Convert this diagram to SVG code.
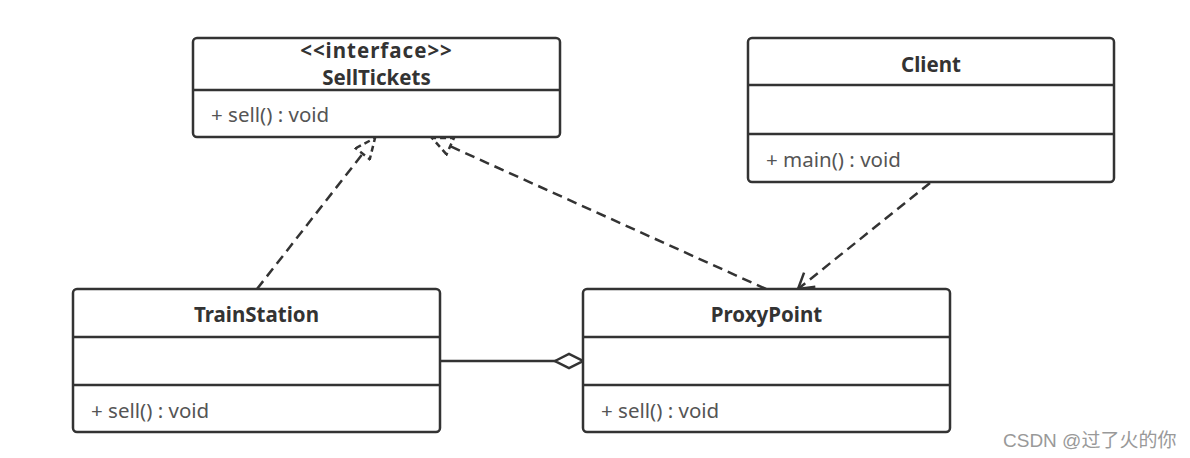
<svg xmlns="http://www.w3.org/2000/svg" width="1190" height="458" viewBox="0 0 1190 458">
<style>
.box{fill:#fff;stroke:#333;stroke-width:2.5}
.div{stroke:#333;stroke-width:2.5}
.title{font-family:"Noto Sans","DejaVu Sans",sans-serif;font-weight:bold;font-size:20.5px;fill:#333;text-anchor:middle}
.member{font-family:"Noto Sans","DejaVu Sans",sans-serif;font-size:20.5px;fill:#555}
.dash{fill:none;stroke:#333;stroke-width:2.5;stroke-dasharray:10 6}
.solid{fill:none;stroke:#333;stroke-width:2.5}
</style>
<defs>
<marker id="tri" markerUnits="userSpaceOnUse" markerWidth="24" markerHeight="20" refX="20" refY="9" orient="auto" viewBox="-2 -1 24 20">
<path d="M0,0 L20,9 L0,18 Z" fill="#fff" stroke="#333" stroke-width="2.5" stroke-dasharray="6 4"/>
</marker>
<marker id="vee" markerUnits="userSpaceOnUse" markerWidth="20" markerHeight="22" refX="15" refY="9" orient="auto" viewBox="-2 -2 20 22">
<path d="M0,0 L15,9 L0,18" fill="none" stroke="#333" stroke-width="2.5"/>
</marker>
<marker id="dia" markerUnits="userSpaceOnUse" markerWidth="32" markerHeight="18" refX="28" refY="7" orient="auto" viewBox="-2 -2 32 18">
<path d="M0,7 L14,0 L28,7 L14,14 Z" fill="#fff" stroke="#333" stroke-width="2.5"/>
</marker>
</defs>
<g id="connectors">
<line class="dash" x1="257" y1="289" x2="375" y2="138" marker-end="url(#tri)"/>
<line class="dash" x1="766" y1="289" x2="432" y2="138" marker-end="url(#tri)"/>
<line class="dash" x1="930" y1="183" x2="798" y2="289" marker-end="url(#vee)"/>
<line class="solid" x1="440" y1="361" x2="583" y2="361" marker-end="url(#dia)"/>
</g>
<g id="SellTickets">
<rect class="box" x="193" y="38" width="367" height="99" rx="4"/>
<line class="div" x1="193" y1="90" x2="560" y2="90"/>
<text class="title" x="376.5" y="58" letter-spacing="1">&lt;&lt;interface&gt;&gt;</text>
<text class="title" x="376.5" y="85">SellTickets</text>
<text class="member" x="211" y="122">+ sell() : void</text>
</g>
<g id="Client">
<rect class="box" x="748" y="38" width="366" height="144" rx="4"/>
<line class="div" x1="748" y1="85" x2="1114" y2="85"/>
<line class="div" x1="748" y1="134" x2="1114" y2="134"/>
<text class="title" x="931" y="72">Client</text>
<text class="member" x="766" y="167">+ main() : void</text>
</g>
<g id="TrainStation">
<rect class="box" x="73" y="289" width="367" height="143" rx="4"/>
<line class="div" x1="73" y1="337" x2="440" y2="337"/>
<line class="div" x1="73" y1="385" x2="440" y2="385"/>
<text class="title" x="256.5" y="322">TrainStation</text>
<text class="member" x="91" y="418">+ sell() : void</text>
</g>
<g id="ProxyPoint">
<rect class="box" x="583" y="289" width="367" height="143" rx="4"/>
<line class="div" x1="583" y1="337" x2="950" y2="337"/>
<line class="div" x1="583" y1="385" x2="950" y2="385"/>
<text class="title" x="766.5" y="322">ProxyPoint</text>
<text class="member" x="601" y="418">+ sell() : void</text>
</g>
<text x="1003" y="447" font-family="Liberation Sans,'Noto Sans CJK SC',sans-serif" font-size="19" fill="#999">CSDN @过了火的你</text>
</svg>
